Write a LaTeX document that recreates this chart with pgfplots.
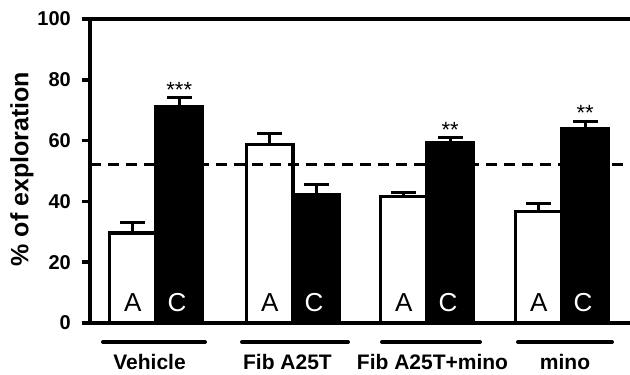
\documentclass[border=0pt]{standalone}
\usepackage{pgfplots}
\pgfplotsset{compat=1.18}
\usepackage{fontspec}
\setmainfont{Liberation Sans}
\tikzset{
  letA/.style={font=\fontsize{26}{30}\selectfont},
  letC/.style={font=\fontsize{26}{30}\selectfont, text=white},
  star/.style={anchor=base, font=\fontsize{22}{26}\selectfont},
  grp/.style={anchor=base, font=\bfseries\fontsize{21}{25}\selectfont},
}
\begin{document}
\begin{tikzpicture}
\path[use as bounding box] (-90pt,-52pt) rectangle (540pt,323pt);
\clip (-90pt,-52pt) rectangle (540pt,323pt);
\begin{axis}[
  scale only axis, width=546pt, height=304pt,
  xmin=0, xmax=546, ymin=0, ymax=100,
  axis line style={line width=3.5pt},
  xtick=\empty,
  ytick={0,20,...,100},
  ytick pos=left,
  tick align=outside,
  major tick length=8pt,
  tick style={line width=3.5pt, black},
  yticklabel style={font=\bfseries\fontsize{20}{24}\selectfont, anchor=east, inner sep=0pt, xshift=-11pt},
  /pgf/number format/assume math mode=true,
  clip=false,
  ylabel={\% of exploration},
  ylabel style={font=\bfseries\fontsize{25}{29}\selectfont, at={(axis cs:-68,50.6)}, anchor=center},
]
% A (white) bars
\addplot[ybar, bar width=46.5pt, bar shift=0pt, fill=white, draw=black, line width=3.3pt,
  error bars/.cd, y dir=plus, y explicit,
  error bar style={line width=3pt, black},
  error mark options={rotate=90, mark size=12.5pt, line width=3pt, black}]
  coordinates {(42.75,29.6) +- (0,3.3) (179.75,58.8) +- (0,3.6) (313.75,41.5) +- (0,1.3) (448.75,36.6) +- (0,2.8)};
% C (black) bars
\addplot[ybar, bar width=46.5pt, bar shift=0pt, fill=black, draw=black, line width=3.3pt,
  error bars/.cd, y dir=plus, y explicit,
  error bar style={line width=3pt, black},
  error mark options={rotate=90, mark size=12.5pt, line width=3pt, black}]
  coordinates {(89.25,71.1) +- (0,3.1) (226.25,42.3) +- (0,3.4) (360.25,59.3) +- (0,1.6) (495.25,63.8) +- (0,2.6)};
% chance line
\addplot[black, line width=2.5pt, dash pattern=on 11pt off 7pt] coordinates {(0,52.2) (546,52.2)};
% letters
\node[letA] at (axis cs:42.75,6.6) {A};
\node[letA] at (axis cs:179.75,6.6) {A};
\node[letA] at (axis cs:313.75,6.6) {A};
\node[letA] at (axis cs:448.75,6.6) {A};
\node[letC] at (axis cs:87,6.6) {C};
\node[letC] at (axis cs:224,6.6) {C};
\node[letC] at (axis cs:358,6.6) {C};
\node[letC] at (axis cs:493,6.6) {C};
% stars
\node[star] at (axis cs:89.25,74.2) {***};
\node[star] at (axis cs:360.25,61.0) {**};
\node[star] at (axis cs:495.25,66.6) {**};
% group lines
\draw[line width=4pt, line cap=round] (axis cs:13,-6.25) -- (axis cs:115,-6.25);
\draw[line width=4pt, line cap=round] (axis cs:152,-6.25) -- (axis cs:258,-6.25);
\draw[line width=4pt, line cap=round] (axis cs:292,-6.25) -- (axis cs:390,-6.25);
\draw[line width=4pt, line cap=round] (axis cs:428,-6.25) -- (axis cs:522,-6.25);
% group labels
\node[grp] at (axis cs:59.5,-15.46) {Vehicle};
\node[grp] at (axis cs:197.5,-15.46) {Fib A25T};
\node[grp] at (axis cs:342.5,-15.46) {Fib A25T+mino};
\node[grp] at (axis cs:475,-15.46) {mino};
\end{axis}
\end{tikzpicture}
\end{document}
